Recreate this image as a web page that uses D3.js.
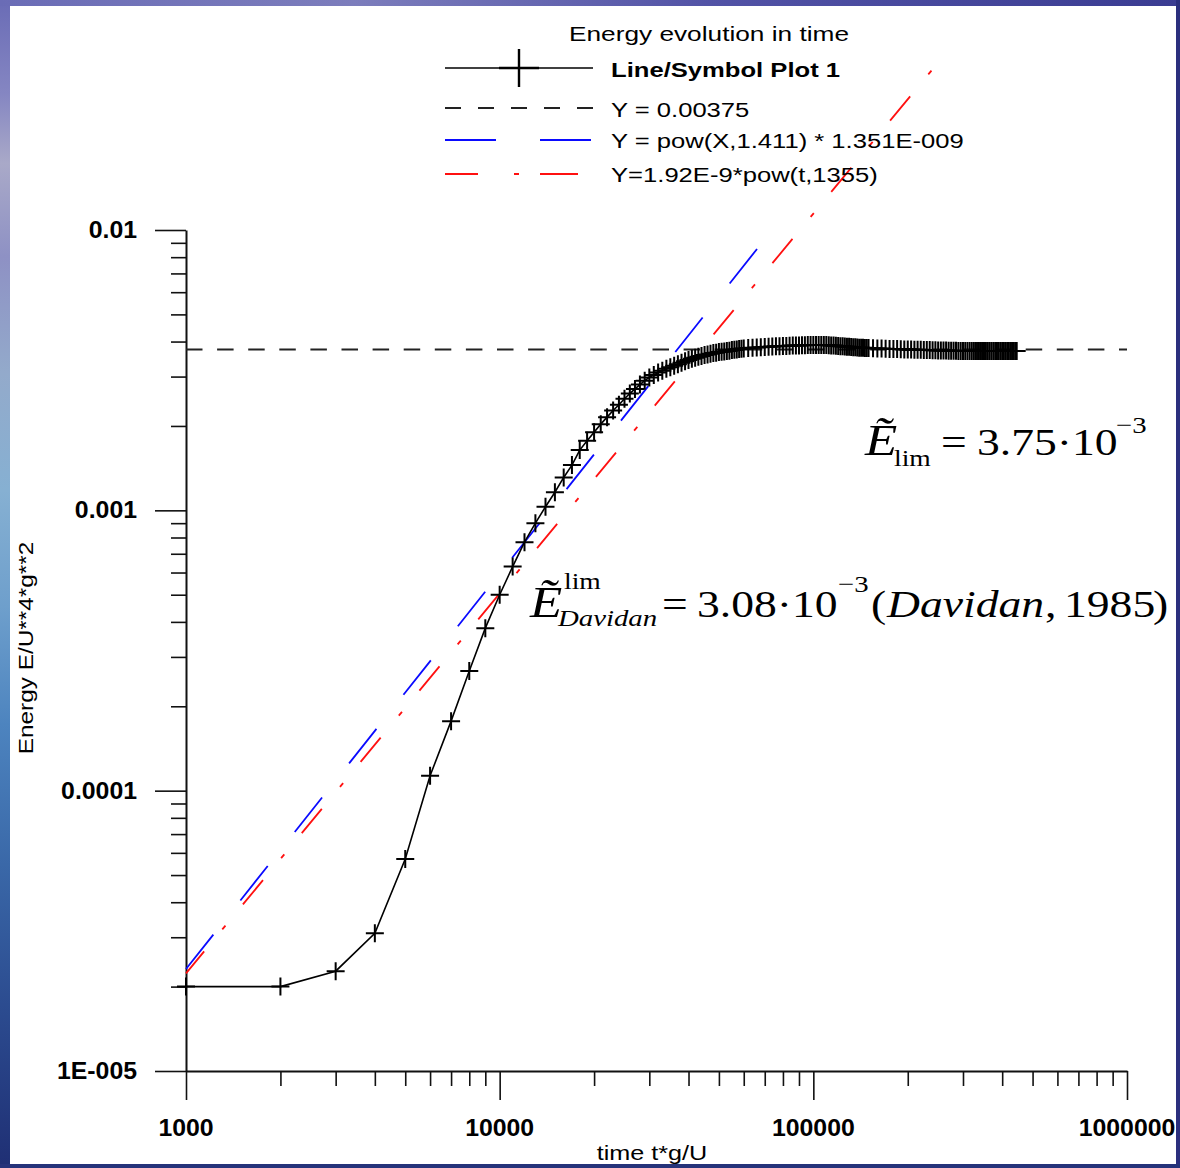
<!DOCTYPE html>
<html>
<head>
<meta charset="utf-8">
<script src="https://cdn.jsdelivr.net/npm/d3@7"></script>
<style>
  html, body { margin: 0; padding: 0; background: #fff; }
  svg { display: block; }
</style>
</head>
<body>
<svg id="chart" width="1180" height="1168"></svg>
<script>
// ---- data ---------------------------------------------------------------
// simulation time t*g/U, in thousands
const timeK = [
  1, 2, 3, 4, 5, 6, 7, 8, 9, 10, 11, 12, 13, 14, 15, 16, 17, 18, 19, 20,
  21, 22, 23, 24, 25, 26, 27, 28, 29, 30, 31, 32, 33, 34, 35, 36, 37, 38, 39, 40,
  41, 42, 43, 44, 45, 46, 47, 48, 49, 50, 51, 52, 53, 54, 55, 56, 57, 58, 59, 60,
  62, 64, 66, 68, 70, 72, 74, 76, 78, 80, 82, 84, 86, 88, 90, 92, 94, 96, 98, 100,
  102, 104, 106, 108, 110, 112, 114, 116, 118, 120, 122, 124, 126, 128, 130,
  132, 134, 136, 138, 140, 142, 144, 146, 148, 150,
  155, 160, 165, 170, 175, 180, 185, 190, 195, 200, 205, 210, 215, 220, 225,
  230, 235, 240, 245, 250, 255, 260, 265, 270, 275, 280, 285, 290, 295, 300,
  305, 310, 315, 320, 325, 330, 335, 340, 345, 350, 355, 360, 365, 370, 375,
  380, 385, 390, 395, 400, 405, 410, 415, 420, 425, 430, 435, 440, 445
];
// energy E*g^2/U^4, in units of 1e-3
const energyMilli = [
  0.020, 0.020, 0.0227, 0.031, 0.057, 0.113, 0.177, 0.267, 0.380, 0.500,
  0.630, 0.770, 0.900, 1.030, 1.160, 1.310, 1.450, 1.640, 1.770, 1.900,
  2.030, 2.150, 2.270, 2.380, 2.500, 2.610, 2.710, 2.810, 2.900, 2.980,
  3.04, 3.10, 3.15, 3.20, 3.24, 3.28, 3.32, 3.36, 3.40, 3.44,
  3.47, 3.50, 3.53, 3.55, 3.58, 3.60, 3.62, 3.64, 3.65, 3.67,
  3.68, 3.69, 3.70, 3.71, 3.73, 3.74, 3.75, 3.76, 3.77, 3.78,
  3.79, 3.80, 3.81, 3.815, 3.825, 3.83, 3.84, 3.845, 3.85, 3.857,
  3.86, 3.865, 3.87, 3.87, 3.875, 3.88, 3.88, 3.885, 3.89, 3.89,
  3.89, 3.89, 3.89, 3.885, 3.885, 3.88, 3.875, 3.87, 3.865, 3.857,
  3.85, 3.845, 3.84, 3.835, 3.83,
  3.825, 3.82, 3.815, 3.81, 3.805, 3.80, 3.80, 3.795, 3.79, 3.79,
  3.785, 3.78, 3.775, 3.77, 3.765, 3.763, 3.76, 3.755, 3.75, 3.748,
  3.745, 3.742, 3.74, 3.737, 3.735,
  3.732, 3.73, 3.727, 3.725, 3.72, 3.718, 3.716, 3.714, 3.712, 3.71,
  3.708, 3.706, 3.704, 3.702, 3.70,
  3.70, 3.70, 3.70, 3.70, 3.70, 3.70, 3.70, 3.70, 3.70, 3.70,
  3.70, 3.70, 3.70, 3.70, 3.70,
  3.70, 3.70, 3.70, 3.70, 3.70, 3.70, 3.70, 3.70, 3.70, 3.70,
  3.70, 3.70, 3.70, 3.70
];
const limitLevel = [0.00375];
// power-law fits Y = coef * t^exp, drawn over [fitStart, fitEnd]
const fitCoef = [1.351e-9, 1.92e-9];
const fitExp = [1.411, 1.355];
const fitStart = [1000, 1000];
const fitEnd = [66200, 240000];
const fitColor = ["#0a0aff", "#ff1010"];

const xTickValues = [1000, 10000, 100000, 1000000];
const xTickLabels = ["1000", "10000", "100000", "1000000"];
const yTickValues = [0.01, 0.001, 0.0001, 0.00001];
const yTickLabels = ["0.01", "0.001", "0.0001", "1E-005"];
const legendTitle = "Energy evolution in time";
const legendLabels = [
  "Line/Symbol Plot 1",
  "Y = 0.00375",
  "Y = pow(X,1.411) * 1.351E-009",
  "Y=1.92E-9*pow(t,1355)"
];

const series = timeK.map((k, i) => ({ t: k * 1000, e: energyMilli[i] * 1e-3 }));

// ---- setup --------------------------------------------------------------
const SANS = "'Liberation Sans', Arial, Helvetica, sans-serif";
const SERIF = "'Liberation Serif', 'Times New Roman', Times, serif";
const svg = d3.select("#chart");

const x = d3.scaleLog().domain([1000, 1000000]).range([186, 1127]);
const y = d3.scaleLog().domain([0.00001, 0.01]).range([1071, 230]);

// text helper: horizontally stretched glyphs
function label(parent, str, px, py, o = {}) {
  const g = parent.append("g")
    .attr("transform", `translate(${px},${py})${o.rotate ? ` rotate(${o.rotate})` : ""} scale(${o.sx || 1},1)`);
  return g.append("text")
    .attr("text-anchor", o.anchor || "start")
    .style("font-family", o.family || SANS)
    .style("font-size", (o.size || 21) + "px")
    .style("font-weight", o.weight || "normal")
    .style("font-style", o.style || "normal")
    .attr("fill", o.fill || "#000")
    .text(str);
}

// formula helper: one text, pieces placed at page x and baseline offset
function formula(px, py, sx, parts) {
  const t = svg.append("g")
    .attr("transform", `translate(${px},${py}) scale(${sx},1)`)
    .append("text")
    .style("font-family", SERIF)
    .attr("fill", "#000");
  parts.forEach(p => {
    t.append("tspan")
      .attr("x", ((p.x - px) / sx).toFixed(2))
      .attr("y", p.dy || 0)
      .style("font-size", (p.size || 38) + "px")
      .style("font-style", p.it ? "italic" : "normal")
      .text(p.s);
  });
}

// ---- frame --------------------------------------------------------------
const defs = svg.append("defs");
const sideGrad = defs.append("linearGradient").attr("id", "sideGrad")
  .attr("x1", 0).attr("y1", 0).attr("x2", 0).attr("y2", 1);
[[0, "#6a6cb6"], [0.08, "#8586c2"], [0.14, "#a9a9c8"], [0.22, "#8e91c4"],
 [0.32, "#93aacb"], [0.42, "#86b0d2"], [0.52, "#6e9fcc"], [0.62, "#4d84bf"],
 [0.74, "#3a68a8"], [0.86, "#2c4c90"], [1, "#1f2f74"]]
  .forEach(([o, c]) => sideGrad.append("stop").attr("offset", o).attr("stop-color", c));
const topGrad = defs.append("linearGradient").attr("id", "topGrad")
  .attr("x1", 0).attr("y1", 0).attr("x2", 1).attr("y2", 0);
[[0, "#6a6cb6"], [0.3, "#7c7dbc"], [0.6, "#5253a6"], [1, "#3a3c92"]]
  .forEach(([o, c]) => topGrad.append("stop").attr("offset", o).attr("stop-color", c));

svg.append("rect").attr("width", 1180).attr("height", 1168).attr("fill", "url(#sideGrad)");
svg.append("rect").attr("width", 1180).attr("height", 6).attr("fill", "url(#topGrad)");
svg.append("rect").attr("x", 1176).attr("width", 4).attr("height", 1168).attr("fill", "#2b2f7e");
svg.append("rect").attr("y", 1164).attr("width", 1180).attr("height", 4).attr("fill", "#25337a");
svg.append("rect").attr("x", 10).attr("y", 6).attr("width", 1166).attr("height", 1158).attr("fill", "#fff");

// ---- axes ---------------------------------------------------------------
const decadeMinors = (lo, hi) => {
  const out = [];
  for (let d = lo; d < hi; d *= 10) for (let m = 2; m <= 9; m++) out.push(d * m);
  return out;
};
const xMinor = decadeMinors(1000, 1000000);
const yMinor = decadeMinors(0.00001, 0.01);

const axes = svg.append("g");
const gxMinor = axes.append("g").attr("transform", `translate(0,${y(0.00001)})`)
  .call(d3.axisBottom(x).tickValues(xMinor).tickSize(15).tickSizeOuter(0).tickFormat(""));
gxMinor.select(".domain").remove();
axes.append("g").attr("transform", `translate(0,${y(0.00001)})`)
  .call(d3.axisBottom(x).tickValues(xTickValues).tickSize(29).tickSizeOuter(0).tickFormat(""));

const gyMinor = axes.append("g").attr("transform", `translate(${x(1000)},0)`)
  .call(d3.axisLeft(y).tickValues(yMinor).tickSize(15).tickSizeOuter(0).tickFormat(""));
gyMinor.select(".domain").remove();
axes.append("g").attr("transform", `translate(${x(1000)},0)`)
  .call(d3.axisLeft(y).tickValues(yTickValues).tickSize(31).tickSizeOuter(0).tickFormat(""));

axes.selectAll(".tick line").attr("stroke", "#111").attr("stroke-width", 1.6);
axes.selectAll(".domain").attr("stroke", "#111").attr("stroke-width", 2);

// tick labels
xTickValues.forEach((v, i) =>
  label(svg, xTickLabels[i], x(v), 1136, { anchor: "middle", weight: "bold", size: 23, sx: 1.08 }));
yTickValues.forEach((v, i) =>
  label(svg, yTickLabels[i], 137, y(v) + 8, { anchor: "end", weight: "bold", size: 23, sx: 1.08 }));

// axis titles
label(svg, "time t*g/U", 652, 1160, { anchor: "middle", size: 21, sx: 1.2 });
label(svg, "Energy E/U**4*g**2", 33, 648, { anchor: "middle", size: 21, sx: 1.16, rotate: -90 });

// ---- reference level ----------------------------------------------------
svg.append("line")
  .attr("x1", x(1000)).attr("x2", x(1000000))
  .attr("y1", y(limitLevel[0])).attr("y2", y(limitLevel[0]))
  .attr("stroke", "#222").attr("stroke-width", 2)
  .attr("stroke-dasharray", "16.5,14.6");

// ---- power-law fits -----------------------------------------------------
const fitDash = ["44,43.5", "31.5,28.5,5,27.4"];
const fitOffset = [0, 3];
fitCoef.forEach((c, i) => {
  const pts = [fitStart[i], fitEnd[i]].map(t => [x(t), y(c * Math.pow(t, fitExp[i]))]);
  svg.append("path")
    .attr("d", d3.line()(pts))
    .attr("fill", "none")
    .attr("stroke", fitColor[i])
    .attr("stroke-width", 1.8)
    .attr("stroke-dasharray", fitDash[i])
    .attr("stroke-dashoffset", fitOffset[i]);
});

// ---- energy curve with cross markers ------------------------------------
svg.append("path")
  .datum(series)
  .attr("d", d3.line().x(d => x(d.t)).y(d => y(d.e)))
  .attr("fill", "none")
  .attr("stroke", "#000")
  .attr("stroke-width", 1.6);

svg.append("g").selectAll("path")
  .data(series)
  .join("path")
  .attr("d", d => `M${x(d.t) - 9},${y(d.e)}h18M${x(d.t)},${y(d.e) - 9}v18`)
  .attr("stroke", "#000")
  .attr("stroke-width", 2)
  .attr("fill", "none");

// ---- legend -------------------------------------------------------------
const lg = svg.append("g");
label(lg, legendTitle, 709, 41, { anchor: "middle", size: 21, sx: 1.25 });
const rowY = [68, 108, 140, 174];
const baseY = [76.5, 116.5, 148, 181.5];
const lx0 = 445, lx1 = 593, tx = 611;

// row 1: line with cross
lg.append("line").attr("x1", lx0).attr("x2", lx1).attr("y1", rowY[0]).attr("y2", rowY[0])
  .attr("stroke", "#000").attr("stroke-width", 1.5);
lg.append("path")
  .attr("d", `M${(lx0 + lx1) / 2 - 20},${rowY[0]}h40M${(lx0 + lx1) / 2},${rowY[0] - 19}v38`)
  .attr("stroke", "#000").attr("stroke-width", 2.4);
// row 2: black dashes
lg.append("line").attr("x1", lx0).attr("x2", lx1).attr("y1", rowY[1]).attr("y2", rowY[1])
  .attr("stroke", "#222").attr("stroke-width", 2).attr("stroke-dasharray", "16,17");
// row 3: blue long dashes
lg.append("line").attr("x1", lx0).attr("x2", lx1).attr("y1", rowY[2]).attr("y2", rowY[2])
  .attr("stroke", fitColor[0]).attr("stroke-width", 1.8).attr("stroke-dasharray", "51,44");
// row 4: red dash-dot
lg.append("line").attr("x1", lx0).attr("x2", lx1 - 15).attr("y1", rowY[3]).attr("y2", rowY[3])
  .attr("stroke", fitColor[1]).attr("stroke-width", 1.8).attr("stroke-dasharray", "33,36,5,21,38");

legendLabels.forEach((s, i) =>
  label(lg, s, tx, baseY[i], { size: 21, sx: 1.22, weight: i === 0 ? "bold" : "normal" }));

// ---- annotations ----------------------------------------------------------
// limit energy
formula(864, 455, 1.2, [
  { s: "\u1EBC", x: 865, size: 44, it: true },
  { s: "lim", x: 894, dy: 11, size: 23 },
  { s: "=", x: 941 },
  { s: "3.75\u00B710", x: 977 },
  { s: "\u22123", x: 1116, dy: -22, size: 24 }
]);

// Davidan (1985) limit
formula(529, 617, 1.2, [
  { s: "\u1EBC", x: 530, size: 44, it: true },
  { s: "lim", x: 564, dy: -28, size: 23 },
  { s: "Davidan", x: 558, dy: 9, size: 24, it: true },
  { s: "=", x: 662 },
  { s: "3.08\u00B710", x: 697 },
  { s: "\u22123", x: 838, dy: -25, size: 24 },
  { s: "(", x: 871 },
  { s: "Davidan", x: 887, it: true },
  { s: ",", x: 1045 },
  { s: "1985", x: 1064 },
  { s: ")", x: 1153 }
]);
</script>
</body>
</html>
